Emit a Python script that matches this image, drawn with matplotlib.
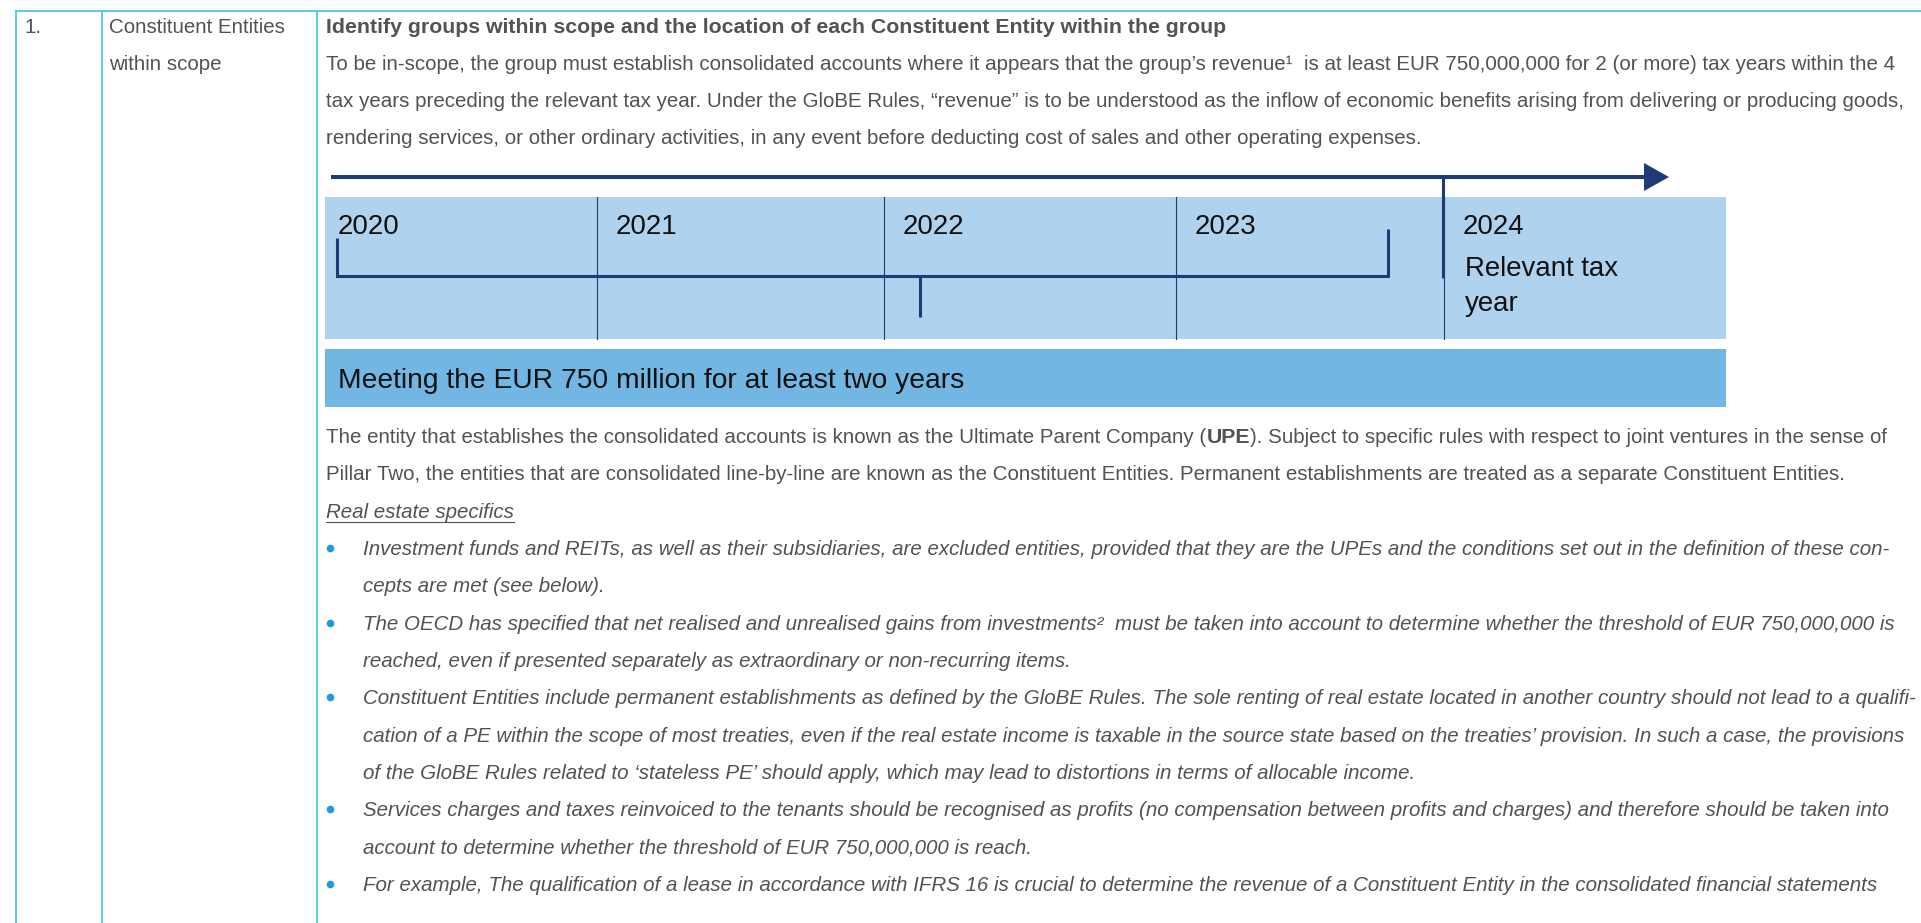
import matplotlib.pyplot as plt
from matplotlib.patches import Rectangle, Polygon

# --- content ---
row_number = '1.'
row_label = ['Constituent Entities', 'within scope']
heading = 'Identify groups within scope and the location of each Constituent Entity within the group'
intro_lines = [
    'To be in-scope, the group must establish consolidated accounts where it appears that the group\u2019s revenue\u00b9  is at least EUR 750,000,000 for 2 (or more) tax years within the 4',
    'tax years preceding the relevant tax year. Under the GloBE Rules, \u201crevenue\u201d is to be understood as the inflow of economic benefits arising from delivering or producing goods,',
    'rendering services, or other ordinary activities, in any event before deducting cost of sales and other operating expenses.',
]
years = ['2020', '2021', '2022', '2023', '2024']
relevant_label = ['Relevant tax', 'year']
threshold_label = 'Meeting the EUR 750 million for at least two years'
upe_line = ['The entity that establishes the consolidated accounts is known as the Ultimate Parent Company (', 'UPE',
            '). Subject to specific rules with respect to joint ventures in the sense of']
para_line2 = 'Pillar Two, the entities that are consolidated line-by-line are known as the Constituent Entities. Permanent establishments are treated as a separate Constituent Entities.'
subheading = 'Real estate specifics'
bullets = [
    ['Investment funds and REITs, as well as their subsidiaries, are excluded entities, provided that they are the UPEs and the conditions set out in the definition of these con-',
     'cepts are met (see below).'],
    ['The OECD has specified that net realised and unrealised gains from investments\u00b2  must be taken into account to determine whether the threshold of EUR 750,000,000 is',
     'reached, even if presented separately as extraordinary or non-recurring items.'],
    ['Constituent Entities include permanent establishments as defined by the GloBE Rules. The sole renting of real estate located in another country should not lead to a qualifi-',
     'cation of a PE within the scope of most treaties, even if the real estate income is taxable in the source state based on the treaties\u2019 provision. In such a case, the provisions',
     'of the GloBE Rules related to \u2018stateless PE\u2019 should apply, which may lead to distortions in terms of allocable income.'],
    ['Services charges and taxes reinvoiced to the tenants should be recognised as profits (no compensation between profits and charges) and therefore should be taken into',
     'account to determine whether the threshold of EUR 750,000,000 is reach.'],
    ['For example, The qualification of a lease in accordance with IFRS 16 is crucial to determine the revenue of a Constituent Entity in the consolidated financial statements'],
]

# --- colours ---
border_col = '#55c3ef'
text_col = '#525252'
navy = '#1f3a78'
light_blue = '#afd2ee'
mid_blue = '#72b6e4'
bullet_col = '#1b9be0'
FONT = ['Liberation Sans', 'DejaVu Sans']

W, H = 1921, 923
fig = plt.figure(figsize=(W / 100, H / 100), dpi=100)
ax = fig.add_axes([0, 0, 1, 1])
ax.set_xlim(0, W)
ax.set_ylim(H, 0)
ax.axis('off')
renderer = fig.canvas.get_renderer()


def text_width(s, **kw):
    t = ax.text(0, 0, s, **kw)
    w = t.get_window_extent(renderer).width
    t.remove()
    return w


def fit_size(s, width, **kw):
    return 10 * width / text_width(s, fontsize=10, **kw)


regular = dict(family=FONT, fontweight='normal', color=text_col)
italic = dict(family=FONT, fontweight='normal', fontstyle='italic', color=text_col)
bold = dict(family=FONT, fontweight='bold', color=text_col)
tl = dict(family=FONT, fontweight='normal', color='#111111')

regular['fontsize'] = min(fit_size(intro_lines[0], 1589, **regular),
                          fit_size(intro_lines[1], 1591, **regular))
italic['fontsize'] = min(fit_size(bullets[2][0], 1556, **italic),
                         fit_size(bullets[2][1], 1554, **italic))
bold['fontsize'] = fit_size(heading, 898, **bold)
meet_size = fit_size(threshold_label, 628, **tl)
year_size = fit_size(relevant_label[0], 154, **tl)

# --- table grid ---
top = 11
for x in [16, 102, 317]:
    ax.plot([x, x], [top, H], color=border_col, lw=1.3)
ax.plot([16, W], [top, top], color=border_col, lw=1.3)

ax.text(25, 33, row_number, va='baseline', **regular)
for i, s in enumerate(row_label):
    ax.text(109, 33 + 36.8 * i, s, va='baseline', **regular)

x0 = 326
ax.text(x0, 33, heading, va='baseline', **bold)
for i, s in enumerate(intro_lines):
    ax.text(x0, 70 + 36.8 * i, s, va='baseline', **regular)

# --- timeline ---
box_l, box_r, box_t, box_b = 325, 1726, 197, 339
ax.add_patch(Rectangle((box_l, box_t), box_r - box_l, box_b - box_t, color=light_blue, lw=0))
cell_left = [box_l, 597, 884, 1176, 1444]
for x in cell_left[1:]:
    ax.plot([x, x], [box_t, box_b], color=navy, lw=0.8)
for i, y in enumerate(years):
    pad = 13 if i == 0 else 19
    ax.text(cell_left[i] + pad, 234, y, va='baseline', fontsize=year_size, **tl)
for i, s in enumerate(relevant_label):
    ax.text(cell_left[-1] + 21, 276 + 35 * i, s, va='baseline', fontsize=year_size, **tl)

# arrow
ax.plot([331, 1646], [177, 177], color=navy, lw=2.9, solid_capstyle='butt')
ax.add_patch(Polygon([(1644, 163), (1669, 177), (1644, 191)], closed=True, color=navy, lw=0))
ax.plot([1443, 1443], [177, 278], color=navy, lw=2.2, solid_capstyle='butt')

# bracket over the four preceding years
ax.plot([337, 337, 1388, 1388], [238, 276, 276, 229], color=navy, lw=2.2,
        solid_joinstyle='miter', solid_capstyle='butt')
ax.plot([920, 920], [276, 317], color=navy, lw=2.2, solid_capstyle='butt')

ax.add_patch(Rectangle((box_l, 349), box_r - box_l, 58, color=mid_blue, lw=0))
ax.text(338, 388, threshold_label, va='baseline', fontsize=meet_size, **tl)

# --- body paragraphs ---
step = 37.33
base = 443
y = base
ax.text(x0, y, upe_line[0], va='baseline', **regular)
w0 = text_width(upe_line[0], **regular)
ax.text(x0 + w0, y, upe_line[1], va='baseline', **bold)
w1 = text_width(upe_line[1], **bold)
ax.text(x0 + w0 + w1, y, upe_line[2], va='baseline', **regular)

ax.text(x0, base + step, para_line2, va='baseline', **regular)

ax.text(x0, base + 2 * step, subheading, va='baseline', **italic)
sw = text_width(subheading, **italic)
ax.plot([x0, x0 + sw], [base + 2 * step + 4, base + 2 * step + 4], color=text_col, lw=0.8)

row = 3
for b in bullets:
    ax.plot(330, base + row * step - 7, 'o', color=bullet_col, ms=5.5, mec='none')
    for s in b:
        ax.text(363, base + row * step, s, va='baseline', **italic)
        row += 1

fig.savefig('out.png', dpi=100, facecolor='white')
